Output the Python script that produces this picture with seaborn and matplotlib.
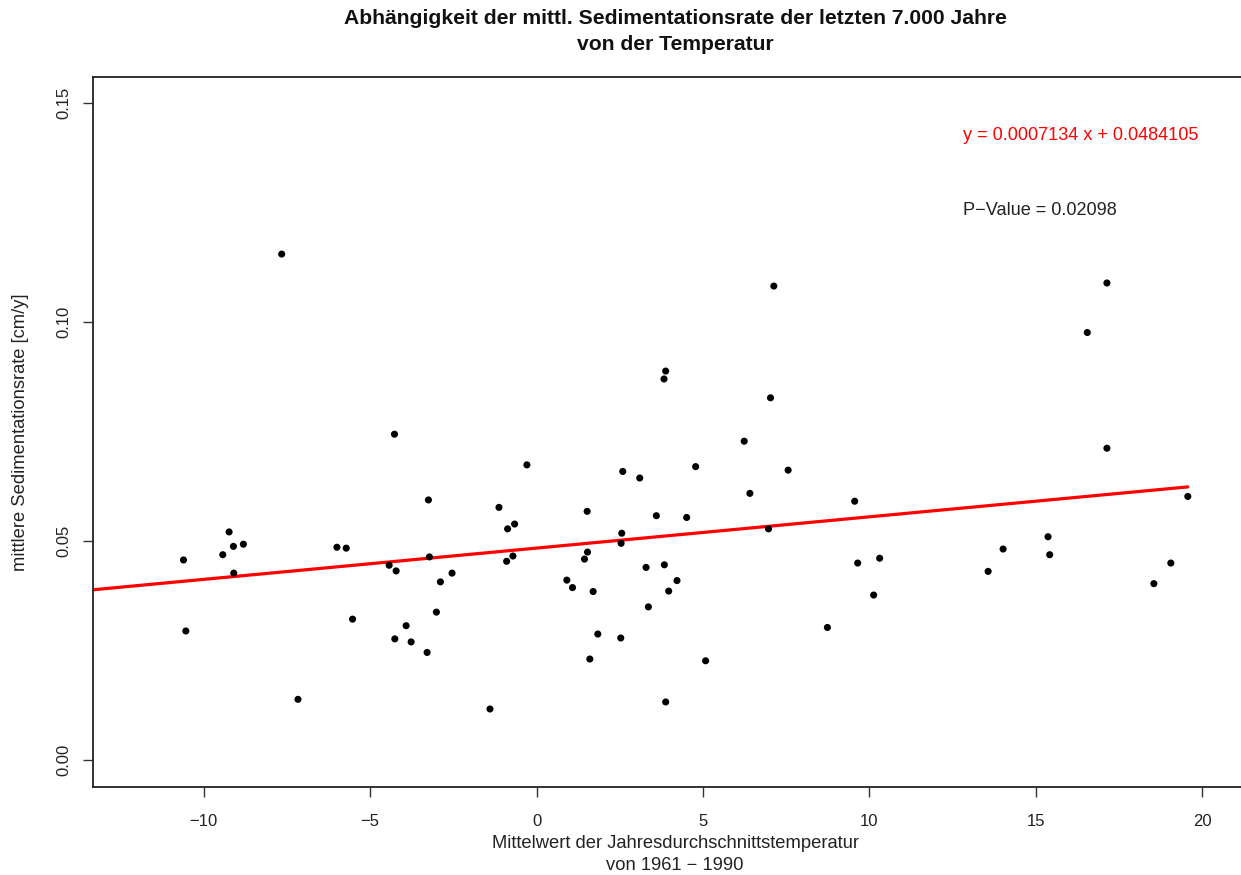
import numpy as np
import pandas as pd
import matplotlib
matplotlib.use("Agg")
import matplotlib.pyplot as plt
import seaborn as sns

# Temperature (x) and sedimentation rate (y)
temperature = [
    -10.61, -10.54, -9.24, -9.43, -9.11, -8.81, -9.10, -7.17, -6.00, -5.72,
    -5.53, -4.43, -4.22, -3.25, -3.22, -2.54, -2.89, -3.01, -3.92, -4.26,
    -3.77, -3.29, -7.66, -4.27, 3.88, 3.83, 7.03, 6.24, -0.29, 2.59,
    3.10, 4.78, 7.56, 6.41, -1.13, 1.52, 3.60, 4.51, -0.66, -0.87,
    2.56, 6.97, 2.54, 1.53, -0.71, -0.90, 1.44, 3.29, 3.84, 0.91,
    1.08, 1.70, 4.22, 3.97, 3.36, 1.84, 2.53, 1.60, 5.08, 3.88,
    -1.40, 7.13, 17.14, 16.55, 17.14, 9.56, 19.57, 15.37, 14.02, 15.42,
    10.31, 9.65, 19.06, 13.57, 18.55, 10.13, 8.74,
]
sed_rate = [
    0.0457, 0.0295, 0.0521, 0.0469, 0.0488, 0.0493, 0.0427, 0.0139, 0.0486, 0.0484,
    0.0322, 0.0445, 0.0432, 0.0594, 0.0464, 0.0427, 0.0407, 0.0338, 0.0307, 0.0277,
    0.0270, 0.0246, 0.1155, 0.0744, 0.0888, 0.0870, 0.0827, 0.0728, 0.0674, 0.0659,
    0.0644, 0.0670, 0.0662, 0.0609, 0.0577, 0.0568, 0.0558, 0.0554, 0.0539, 0.0528,
    0.0518, 0.0528, 0.0495, 0.0475, 0.0466, 0.0454, 0.0459, 0.0440, 0.0446, 0.0411,
    0.0394, 0.0385, 0.0410, 0.0386, 0.0350, 0.0288, 0.0279, 0.0231, 0.0227, 0.0133,
    0.0117, 0.1082, 0.1089, 0.0976, 0.0712, 0.0591, 0.0602, 0.0510, 0.0482, 0.0469,
    0.0461, 0.0450, 0.0450, 0.0431, 0.0403, 0.0377, 0.0303,
]

# Regression coefficients as printed on the chart
slope = 0.0007134
intercept = 0.0484105
p_value = 0.02098

x_ticks = [-10, -5, 0, 5, 10, 15, 20]
y_ticks = [0.00, 0.05, 0.10, 0.15]
y_tick_labels = ["0.00", "0.05", "0.10", "0.15"]

title_lines = ["Abhängigkeit der mittl. Sedimentationsrate der letzten 7.000 Jahre",
               "von der Temperatur"]
x_label = "Mittelwert der Jahresdurchschnittstemperatur\nvon 1961 \u2212 1990"
y_label = "mittlere Sedimentationsrate [cm/y]"

sns.set_theme(style="white")
plt.rcParams["font.family"] = ["Liberation Sans", "DejaVu Sans"]

W, H = 1241, 875
fig = plt.figure(figsize=(W / 100, H / 100), dpi=100)
left, right, top, bottom = 93, 1257, 77, 787
ax = fig.add_axes([left / W, (H - bottom) / H, (right - left) / W, (bottom - top) / H])

df = pd.DataFrame({"temp": temperature, "rate": sed_rate})
sns.scatterplot(data=df, x="temp", y="rate", ax=ax, color="black", s=26,
                edgecolor="none", zorder=3)

xmin, xmax = -13.33, 21.65
line_x = np.array([-15.0, max(temperature)])
line_df = pd.DataFrame({"temp": line_x, "rate": slope * line_x + intercept})
sns.lineplot(data=line_df, x="temp", y="rate", ax=ax, color="#ff0000",
             linewidth=2.3, zorder=2)

ax.set_xlim(xmin, xmax)
ax.set_ylim(-0.0061, 0.1559)
ax.set_xticks(x_ticks)
ax.set_yticks(y_ticks)
ax.set_yticklabels(y_tick_labels, rotation=90, va="center")
ax.tick_params(axis="both", which="major", direction="out", length=7.5, width=1.0,
               color="#333333", labelsize=12, labelcolor="#222222", bottom=True, left=True)
ax.tick_params(axis="x", pad=12)
ax.tick_params(axis="y", pad=8)
for sp in ax.spines.values():
    sp.set_color("#222222")
    sp.set_linewidth(1.3)

ax.set_xlabel(x_label, fontsize=13.2, color="#222222", linespacing=1.45, labelpad=4)
ax.set_ylabel(y_label, fontsize=13.2, color="#222222", labelpad=20)
ax.grid(False)

fig.text(675 / W, 1 - 19 / H, title_lines[0], ha="center", va="center",
         fontsize=15.2, fontweight="bold", color="#111111")
fig.text(675 / W, 1 - 45 / H, title_lines[1], ha="center", va="center",
         fontsize=15.2, fontweight="bold", color="#111111")

ax.text(12.82, 0.1426, f"y = {slope:.7f} x + {intercept:.7f}", color="#ff0000",
        fontsize=13.1, ha="left", va="center")
ax.text(12.82, 0.1255, f"P\u2212Value = {p_value:.5f}", color="#222222",
        fontsize=13.1, ha="left", va="center")

fig.savefig("out.png", dpi=100)
